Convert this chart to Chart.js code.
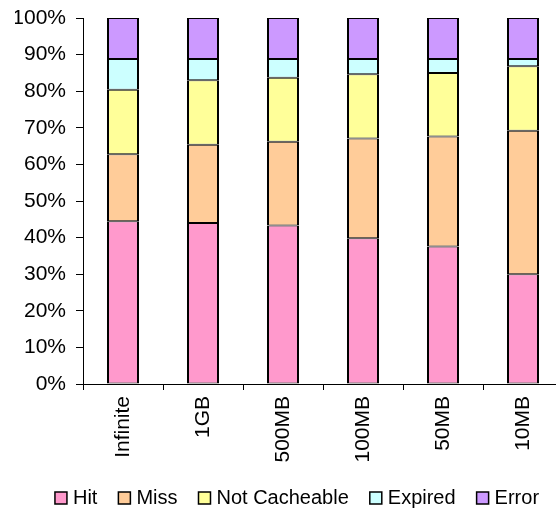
<!DOCTYPE html>
<html>
<head>
<meta charset="utf-8">
<script src="https://cdn.jsdelivr.net/npm/chart.js@4/dist/chart.umd.min.js"></script>
<style>
  html, body { margin: 0; padding: 0; background: #fff; overflow: hidden; }
  canvas { display: block; }
</style>
</head>
<body>
<canvas id="chart" width="600" height="518"></canvas>
<script>
// Cache sizes along the x axis
const categories = ['Infinite', '1GB', '500MB', '100MB', '50MB', '10MB'];

// Share of requests per outcome (percent of all requests)
const hit          = [44.5, 44.0, 43.3, 39.8, 37.6, 30.0];
const miss         = [18.3, 21.4, 22.9, 27.3, 30.0, 39.2];
const notCacheable = [17.6, 17.6, 17.5, 17.5, 17.4, 17.6];
const expired      = [ 8.4,  5.8,  5.1,  4.2,  3.8,  2.0];
const error        = [11.2, 11.2, 11.2, 11.2, 11.2, 11.2];

// Y axis tick values
const yTicks = [0, 10, 20, 30, 40, 50, 60, 70, 80, 90, 100];

const FAMILY = '"Liberation Sans", Arial, sans-serif';
const TICK_FONT = { family: FAMILY, size: 21 };
const LEGEND_FONT = { family: FAMILY, size: 20 };

const series = [
  { label: 'Hit',           data: hit,          color: '#FF99CC' },
  { label: 'Miss',          data: miss,         color: '#FFCC99' },
  { label: 'Not Cacheable', data: notCacheable, color: '#FFFF99' },
  { label: 'Expired',       data: expired,      color: '#CCFFFF' },
  { label: 'Error',         data: error,        color: '#CC99FF' }
];

// Nudge the legend row so it sits centred under the whole figure
const legendShift = {
  id: 'legendShift',
  afterLayout(chart) {
    if (chart.legend) {
      chart.legend.left += 10;
      chart.legend.right += 10;
    }
  }
};

new Chart(document.getElementById('chart'), {
  type: 'bar',
  data: {
    labels: categories,
    datasets: series.map(s => ({
      label: s.label,
      data: s.data,
      backgroundColor: s.color,
      borderColor: '#000',
      borderWidth: { left: 2, right: 2, top: 1, bottom: 1 },
      borderSkipped: false,
      categoryPercentage: 1,
      barPercentage: 0.4
    }))
  },
  plugins: [legendShift],
  options: {
    responsive: false,
    animation: false,
    devicePixelRatio: 1,
    layout: { padding: { left: 15, right: 37, top: 18, bottom: 0 } },
    plugins: {
      tooltip: { enabled: false },
      legend: {
        position: 'bottom',
        labels: {
          font: LEGEND_FONT,
          color: '#000',
          usePointStyle: true,
          pointStyle: 'rect',
          boxWidth: 4,
          boxHeight: 12,
          padding: 25
        }
      }
    },
    scales: {
      x: {
        stacked: true,
        afterFit: axis => { axis.height = 79; },
        grid: { drawOnChartArea: false, drawTicks: true, tickLength: 6, color: '#000', offset: true },
        border: { color: '#000', width: 1 },
        ticks: {
          font: TICK_FONT,
          color: '#000',
          minRotation: 90,
          maxRotation: 90,
          padding: 6
        }
      },
      y: {
        stacked: true,
        min: 0,
        max: 100,
        afterBuildTicks: axis => { axis.ticks = yTicks.map(v => ({ value: v })); },
        afterFit: axis => {
          axis.width = 68;
          axis.paddingTop = 0;
          axis.paddingBottom = 0;
        },
        grid: { drawOnChartArea: false, drawTicks: true, tickLength: 7, color: '#000' },
        border: { color: '#000', width: 1 },
        ticks: {
          font: TICK_FONT,
          color: '#000',
          padding: 10,
          callback: v => v + '%'
        }
      }
    }
  }
});
</script>
</body>
</html>
